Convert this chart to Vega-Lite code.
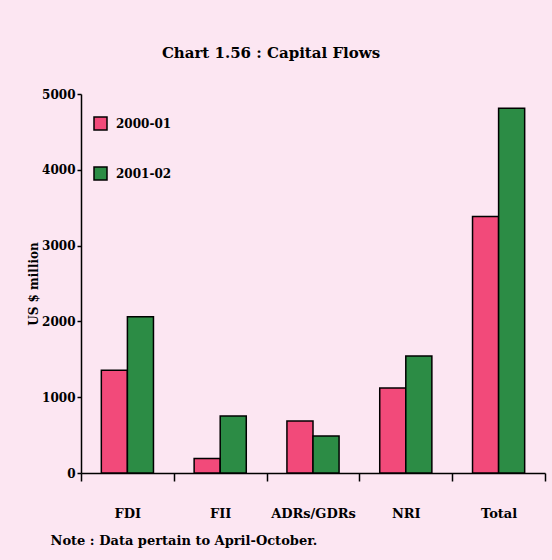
{
  "$schema": "https://vega.github.io/schema/vega-lite/v6.json",
  "autosize": {"type": "none"},
  "width": 464,
  "height": 379,
  "padding": {"left": 81, "top": 94, "right": 7, "bottom": 87},
  "background": "#fce6f2",
  "title": {
    "text": "Chart 1.56 : Capital Flows",
    "font": "DejaVu Serif",
    "fontSize": 15,
    "fontWeight": "bold",
    "color": "#000000",
    "anchor": "middle",
    "dx": -42,
    "offset": 27
  },
  "config": {
    "view": {"stroke": null},
    "font": "DejaVu Serif"
  },
  "data": {
    "values": [
      {"category": "FDI", "year": "2000-01", "value": 1355},
      {"category": "FDI", "year": "2001-02", "value": 2060},
      {"category": "FII", "year": "2000-01", "value": 190},
      {"category": "FII", "year": "2001-02", "value": 752},
      {"category": "ADRs/GDRs", "year": "2000-01", "value": 686},
      {"category": "ADRs/GDRs", "year": "2001-02", "value": 488},
      {"category": "NRI", "year": "2000-01", "value": 1120},
      {"category": "NRI", "year": "2001-02", "value": 1543},
      {"category": "Total", "year": "2000-01", "value": 3385},
      {"category": "Total", "year": "2001-02", "value": 4812}
    ]
  },
  "mark": {"type": "bar", "stroke": "#000000", "strokeWidth": 1.5},
  "encoding": {
    "x": {
      "field": "category",
      "type": "nominal",
      "sort": ["FDI", "FII", "ADRs/GDRs", "NRI", "Total"],
      "scale": {"paddingInner": 0, "paddingOuter": 0},
      "axis": {
        "title": "Note : Data pertain to April-October.",
        "titleFont": "DejaVu Serif",
        "titleFontSize": 13,
        "titleFontWeight": "bold",
        "titleColor": "#000000",
        "titleAnchor": "start",
        "titleAlign": "left",
        "titleBaseline": "middle",
        "titleX": -31,
        "titleY": 67,
        "labelAngle": 0,
        "labelFont": "DejaVu Serif",
        "labelFontSize": 13,
        "labelFontWeight": "bold",
        "labelColor": "#000000",
        "labelPadding": 26,
        "tickBand": "extent",
        "tickSize": 8,
        "tickColor": "#000000",
        "tickWidth": 1.5,
        "domainColor": "#000000",
        "domainWidth": 1.5,
        "grid": false
      }
    },
    "xOffset": {
      "field": "year",
      "type": "nominal",
      "scale": {"paddingInner": 0, "paddingOuter": 0.78}
    },
    "y": {
      "field": "value",
      "type": "quantitative",
      "scale": {"domain": [0, 5000], "nice": false},
      "axis": {
        "title": "US $ million",
        "titleFont": "DejaVu Serif",
        "titleFontSize": 12,
        "titleFontWeight": "bold",
        "titleColor": "#000000",
        "titlePadding": 1,
        "values": [0, 1000, 2000, 3000, 4000, 5000],
        "format": "d",
        "labelFont": "DejaVu Serif",
        "labelFontSize": 12,
        "labelFontWeight": "bold",
        "labelColor": "#000000",
        "labelPadding": 2,
        "tickSize": 4,
        "tickColor": "#000000",
        "tickWidth": 1.5,
        "domainColor": "#000000",
        "domainWidth": 1.5,
        "grid": false
      }
    },
    "color": {
      "field": "year",
      "type": "nominal",
      "scale": {"domain": ["2000-01", "2001-02"], "range": ["#f24a7a", "#2c8c45"]},
      "legend": {
        "title": null,
        "orient": "none",
        "legendX": 12,
        "legendY": 22,
        "symbolType": "square",
        "symbolSize": 169,
        "symbolStrokeColor": "#000000",
        "symbolStrokeWidth": 1.5,
        "symbolOpacity": 1,
        "rowPadding": 31,
        "labelFont": "DejaVu Serif",
        "labelFontSize": 12,
        "labelFontWeight": "bold",
        "labelColor": "#000000",
        "labelOffset": 8
      }
    }
  }
}
